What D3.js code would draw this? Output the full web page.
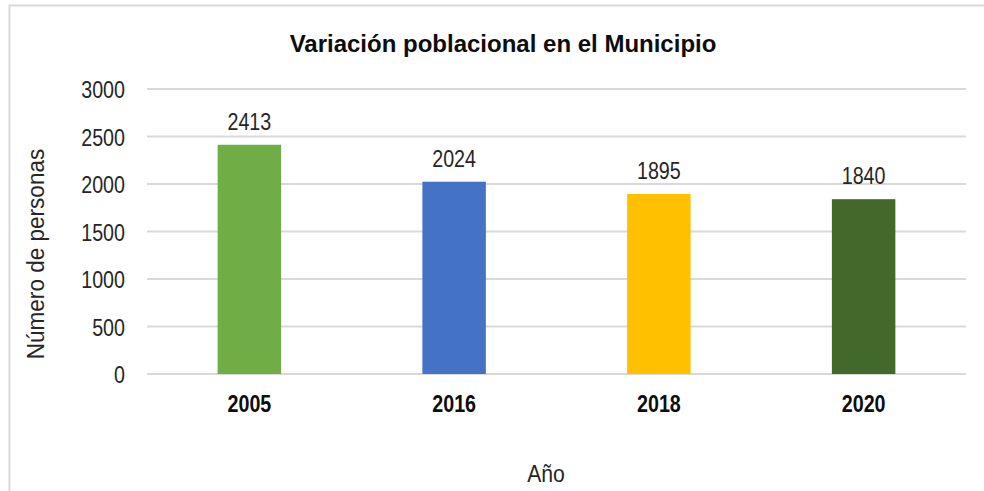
<!DOCTYPE html>
<html>
<head>
<meta charset="utf-8">
<script src="https://cdn.jsdelivr.net/npm/d3@7"></script>
<style>
  body { margin: 0; background: #fff; }
  text { font-family: "Liberation Sans", Arial, sans-serif; fill: #262626; }
</style>
</head>
<body>
<div id="chart"></div>
<script>
// data
var years = ["2005", "2016", "2018", "2020"];
var people = [2413, 2024, 1895, 1840];
var barColors = ["#70AD47", "#4472C4", "#FFC000", "#43682B"];
var yTicks = [0, 500, 1000, 1500, 2000, 2500, 3000];

var svgWidth = 984, svgHeight = 491;
var margin = {top: 89, right: 18, bottom: 117, left: 147};
var chartWidth = svgWidth - margin.left - margin.right;
var chartHeight = svgHeight - margin.top - margin.bottom;

// squeeze text horizontally, the original uses a narrow face
function condense(sel, factor) {
  sel.each(function() {
    var len = this.getComputedTextLength();
    d3.select(this)
      .attr("textLength", len * factor)
      .attr("lengthAdjust", "spacingAndGlyphs");
  });
}

var svg = d3.select("#chart").append("svg")
  .attr("width", svgWidth)
  .attr("height", svgHeight);

// outer frame
svg.append("rect")
  .attr("x", 9.5).attr("y", 5.5)
  .attr("width", 1000).attr("height", 1000)
  .attr("fill", "none")
  .attr("stroke", "#d9d9d9")
  .attr("stroke-width", 2);

var chartGroup = svg.append("g")
  .attr("transform", `translate(${margin.left}, ${margin.top})`);

var xScale = d3.scaleBand().domain(years).range([0, chartWidth]).padding(0);
var yScale = d3.scaleLinear().domain([0, 3000]).range([chartHeight, 0]);
var barWidth = xScale.bandwidth() * 0.31;

// gridlines
chartGroup.selectAll("line.grid")
  .data(yTicks)
  .enter()
  .append("line")
  .attr("class", "grid")
  .attr("x1", 0).attr("x2", chartWidth)
  .attr("y1", d => yScale(d)).attr("y2", d => yScale(d))
  .attr("stroke", "#d9d9d9")
  .attr("stroke-width", 2);

// y axis labels
var yAxis = d3.axisLeft(yScale).tickValues(yTicks).tickFormat(d3.format("d")).tickSize(0).tickPadding(22);
var yg = chartGroup.append("g").call(yAxis);
yg.select(".domain").remove();
yg.selectAll("text")
  .style("font-family", "'Liberation Sans', Arial, sans-serif")
  .style("font-size", "24px")
  .attr("dy", "0.37em")
  .style("fill", "#262626")
  .call(condense, 0.82);

// bars
chartGroup.selectAll("rect.bar")
  .data(people)
  .enter()
  .append("rect")
  .attr("class", "bar")
  .attr("x", (d, i) => xScale(years[i]) + xScale.bandwidth() / 2 - barWidth / 2)
  .attr("y", d => yScale(d))
  .attr("width", barWidth)
  .attr("height", d => chartHeight - yScale(d))
  .attr("fill", (d, i) => barColors[i]);

// value labels
chartGroup.selectAll("text.val")
  .data(people)
  .enter()
  .append("text")
  .attr("class", "val")
  .attr("x", (d, i) => xScale(years[i]) + xScale.bandwidth() / 2)
  .attr("y", d => yScale(d) - 15)
  .attr("text-anchor", "middle")
  .style("font-size", "24px")
  .text(d => d)
  .call(condense, 0.82);

// x labels
var xAxis = d3.axisBottom(xScale).tickSize(0).tickPadding(21);
var xg = chartGroup.append("g")
  .attr("transform", `translate(0, ${chartHeight})`)
  .call(xAxis);
xg.select(".domain").remove();
xg.selectAll("text")
  .style("font-family", "'Liberation Sans', Arial, sans-serif")
  .style("font-size", "24px")
  .style("font-weight", "bold")
  .style("fill", "#0d0d0d")
  .call(condense, 0.82);

// title
svg.append("text")
  .attr("x", 503).attr("y", 52)
  .attr("text-anchor", "middle")
  .style("font-size", "24px")
  .style("font-weight", "bold")
  .style("fill", "#0d0d0d")
  .text("Variación poblacional en el Municipio")
  .call(condense, 1.0);

// axis titles
svg.append("text")
  .attr("transform", "translate(44, 254) rotate(-90)")
  .attr("text-anchor", "middle")
  .style("font-size", "23px")
  .text("Número de personas")
  .call(condense, 0.98);

svg.append("text")
  .attr("x", 546).attr("y", 482)
  .attr("text-anchor", "middle")
  .style("font-size", "23px")
  .text("Año")
  .call(condense, 0.92);
</script>
</body>
</html>
